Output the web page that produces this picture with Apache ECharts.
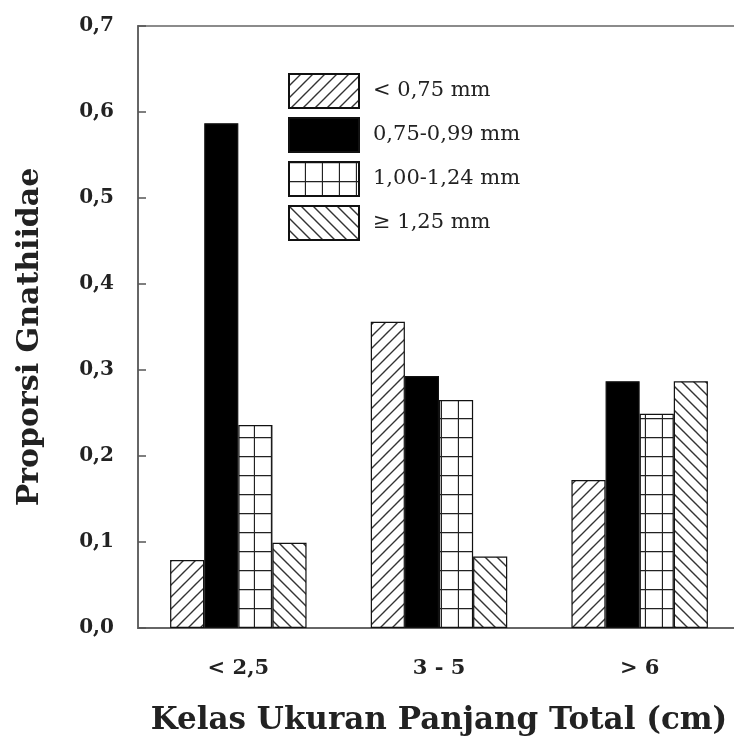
<!DOCTYPE html>
<html>
<head>
<meta charset="utf-8">
<script src="https://cdn.jsdelivr.net/npm/echarts@6/dist/echarts.min.js"></script>
<style>
html,body{margin:0;padding:0;background:#fff;}
#chart{width:734px;height:746px;}
</style>
</head>
<body>
<div id="chart"></div>
<script>
// ---- data ----
var categories = ['< 2,5', '3 - 5', '> 6'];
var seriesNames = ['< 0,75 mm', '0,75-0,99 mm', '1,00-1,24 mm', '\u2265 1,25 mm'];
var valsLt075 = [0.079, 0.356, 0.172];
var vals075_099 = [0.587, 0.293, 0.287];
var vals100_124 = [0.236, 0.265, 0.249];
var valsGe125 = [0.099, 0.083, 0.287];
var yTicks = [0, 0.1, 0.2, 0.3, 0.4, 0.5, 0.6, 0.7];

function makePattern(type) {
  var c = document.createElement('canvas');
  var ctx;
  if (type === 'fwd' || type === 'back') {
    var s = 12;
    c.width = s; c.height = s;
    ctx = c.getContext('2d');
    ctx.fillStyle = '#fff'; ctx.fillRect(0, 0, s, s);
    ctx.strokeStyle = '#333'; ctx.lineWidth = 1.4;
    ctx.beginPath();
    if (type === 'fwd') {
      ctx.moveTo(-2, s + 2); ctx.lineTo(s + 2, -2);
      ctx.moveTo(-2, 2); ctx.lineTo(2, -2);
      ctx.moveTo(s - 2, s + 2); ctx.lineTo(s + 2, s - 2);
    } else {
      ctx.moveTo(-2, -2); ctx.lineTo(s + 2, s + 2);
      ctx.moveTo(s - 2, -2); ctx.lineTo(s + 2, 2);
      ctx.moveTo(-2, s - 2); ctx.lineTo(2, s + 2);
    }
    ctx.stroke();
  } else {
    var w = 17, h = 19;
    c.width = w; c.height = h;
    ctx = c.getContext('2d');
    ctx.fillStyle = '#fff'; ctx.fillRect(0, 0, w, h);
    ctx.strokeStyle = '#222'; ctx.lineWidth = 1.3;
    ctx.beginPath();
    ctx.moveTo(0, 0.5); ctx.lineTo(w, 0.5);
    ctx.moveTo(w - 0.5, 0); ctx.lineTo(w - 0.5, h);
    ctx.stroke();
  }
  return { image: c, repeat: 'repeat' };
}

var fills = [makePattern('fwd'), '#000', makePattern('grid'), makePattern('back')];
var dataSets = [valsLt075, vals075_099, vals100_124, valsGe125];

var chart = echarts.init(document.getElementById('chart'), null, { renderer: 'canvas' });
var fontSerif = '"DejaVu Serif", "Liberation Serif", serif';

var series = seriesNames.map(function (n, i) {
  return {
    name: n,
    type: 'bar',
    data: dataSets[i],
    barGap: '0%',
    barCategoryGap: '32%',
    itemStyle: { color: fills[i], borderColor: '#111', borderWidth: 1.2 }
  };
});

chart.setOption({
  animation: false,
  backgroundColor: '#fff',
  grid: {
    left: 138, right: -6, top: 26, bottom: 118,
    outerBoundsMode: 'none',
    containLabel: false,
    show: true, borderColor: '#666', borderWidth: 1.5, backgroundColor: 'transparent'
  },
  legend: {
    orient: 'vertical',
    left: 288, top: 73,
    padding: 0,
    itemWidth: 70, itemHeight: 34, itemGap: 8,
    icon: 'rect',
    data: seriesNames,
    textStyle: { fontFamily: fontSerif, fontSize: 21, color: '#222', padding: [0, 0, 0, 9] },
    selectedMode: false
  },
  xAxis: {
    type: 'category',
    data: categories,
    name: 'Kelas Ukuran Panjang Total (cm)',
    nameLocation: 'middle',
    nameGap: 77,
    nameTextStyle: { fontFamily: fontSerif, fontSize: 31, fontWeight: 'bold', color: '#222' },
    axisLine: { lineStyle: { color: '#666', width: 2 } },
    axisTick: { alignWithLabel: true, length: 14, lineStyle: { color: '#555', width: 1.5 } },
    axisLabel: { fontFamily: fontSerif, fontSize: 21, fontWeight: 'bold', color: '#222', margin: 30 }
  },
  yAxis: {
    type: 'value',
    min: yTicks[0], max: yTicks[yTicks.length - 1], interval: 0.1,
    name: 'Proporsi Gnathiidae',
    nameLocation: 'middle',
    nameGap: 93,
    nameTextStyle: { fontFamily: fontSerif, fontSize: 30, fontWeight: 'bold', color: '#222', padding: [0, 20, 0, 0] },
    axisLine: { show: true, lineStyle: { color: '#666', width: 2 } },
    axisTick: { show: true, inside: true, length: 8, lineStyle: { color: '#555', width: 1.5 } },
    splitLine: { show: false },
    axisLabel: {
      fontFamily: fontSerif, fontSize: 20, fontWeight: 'bold', color: '#222', margin: 24,
      formatter: function (v) { return v.toFixed(1).replace('.', ','); }
    }
  },
  series: series
});
</script>
</body>
</html>
